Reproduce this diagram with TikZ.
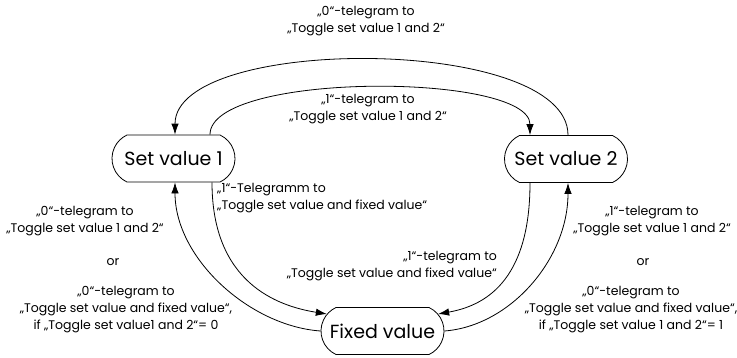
\documentclass[tikz,border=0pt]{standalone}
\usepackage{fontspec}
\setmainfont{Poppins}
\usetikzlibrary{shapes.misc,arrows.meta}
\begin{document}
\begin{tikzpicture}[x=1pt,y=-1pt,
  state/.style={draw, line width=0.8pt, rounded rectangle, rounded rectangle arc length=130,
    minimum width=123pt, minimum height=47pt, inner sep=0pt, font=\fontsize{19}{22}\selectfont},
  lbl/.style={font=\fontsize{12.5}{17}\selectfont, inner sep=0pt},
  conn/.style={line width=0.8pt, -{Latex[length=11pt,width=7.5pt]}},
]
\useasboundingbox (0,0) rectangle (737,357);
\node[state] (sv1) at (173.5,158.5) {Set value 1};
\node[state] (sv2) at (566,159) {Set value 2};
\node[state] (fv) at (382.5,331) {Fixed value};

% top arcs
\draw[conn] ([xshift=2pt]sv2.north) .. controls +(0,-100) and +(0,-100) .. ([xshift=1.5pt]sv1.north);
\draw[conn] ([xshift=36.5pt]sv1.north) .. controls +(0,-63) and +(0,-63) .. ([xshift=-36pt]sv2.north);
% left side
\draw[conn] ([xshift=38.5pt]sv1.south) .. controls +(0,100) and +(-50,-8) .. (fv.163);
\draw[conn] (fv.west) .. controls +(-71,-5) and +(0,76) .. ([xshift=1.5pt]sv1.south);
% right side
\draw[conn] ([xshift=-36pt]sv2.south) .. controls +(0,100) and +(45,-8) .. (fv.17);
\draw[conn] (fv.east) .. controls +(66,-5) and +(0,76) .. ([xshift=2pt]sv2.south);

% labels
\node[lbl, align=center] (ltop) at (366,21.5) {„0“-telegram to\\„Toggle set value 1 and 2“};
\node[lbl, align=center] (linner) at (368,109.5) {„1“-telegram to\\„Toggle set value 1 and 2“};
\node[lbl, align=left, anchor=west] (lsf) at (217,198.5) {„1“-Telegramm to\\„Toggle set value and fixed value“};
\node[lbl, align=right, anchor=east] (lfs) at (497,266.5) {„1“-telegram to\\„Toggle set value and fixed value“};

\node[lbl, align=center] (la) at (85,221.5) {„0“-telegram to\\„Toggle set value 1 and 2“};
\node[lbl] (lor1) at (113,262) {or};
\node[lbl, align=center] (lb) at (126,310) {„0“-telegram to\\„Toggle set value and fixed value“,\\if „Toggle set value1 and 2“= 0};

\node[lbl, align=center] (ra) at (652,221.5) {„1“-telegram to\\„Toggle set value 1 and 2“};
\node[lbl] (ror) at (643,262) {or};
\node[lbl, align=center] (rb) at (631,310) {„0“-telegram to\\„Toggle set value and fixed value“,\\if „Toggle set value 1 and 2“= 1};
\end{tikzpicture}
\end{document}
